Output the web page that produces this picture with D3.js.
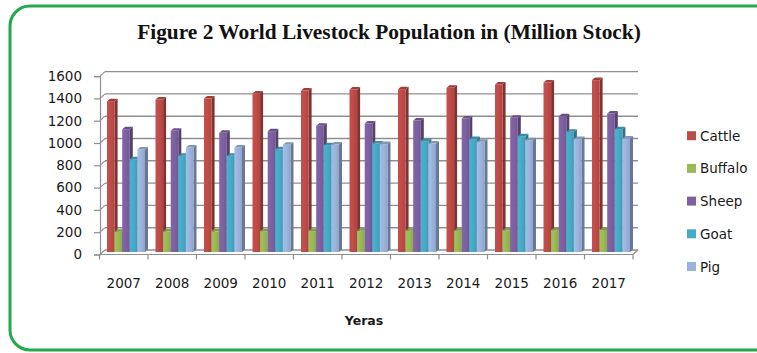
<!DOCTYPE html>
<html><head><meta charset="utf-8">
<script src="https://cdn.jsdelivr.net/npm/d3@7"></script>
<style>html,body{margin:0;padding:0;background:#fff;}svg{display:block;}</style>
</head><body>
<svg id="chart" width="757" height="353"></svg>
<script>
const years = ["2007","2008","2009","2010","2011","2012","2013","2014","2015","2016","2017"];
const seriesNames = ["Cattle","Buffalo","Sheep","Goat","Pig"];
const cattle  = [1357,1372,1381,1426,1453,1462,1465,1477,1507,1525,1546];
const buffalo = [186,188,190,191,192,194,195,196,198,200,202];
const sheep   = [1106,1091,1073,1088,1136,1157,1184,1202,1208,1223,1247];
const goat    = [837,867,867,926,963,978,999,1017,1043,1082,1106];
const pig     = [924,942,942,966,969,972,978,993,1007,1017,1022];
const yTicks  = [0,200,400,600,800,1000,1200,1400,1600];
const colors  = ["#BE4B48","#98B954","#7D60A0","#46AAC5","#9BB3DC"];
const titleText = "Figure 2 World Livestock Population in (Million Stock)";
const xTitle = "Yeras";

const seriesValues = [cattle, buffalo, sheep, goat, pig];
const svg = d3.select("#chart");
const defs = svg.append("defs");

// frame
svg.append("rect").attr("x",10).attr("y",6).attr("width",770).attr("height",344)
  .attr("rx",20).attr("ry",20).attr("fill","#fff").attr("stroke","#22a84d").attr("stroke-width",3);

svg.append("text").attr("x",389).attr("y",39).attr("text-anchor","middle")
  .attr("font-family","'Liberation Serif','Times New Roman',serif").attr("font-weight","bold")
  .attr("font-size",21.4).attr("fill","#111").text(titleText);

// geometry
const depth = {dx:5, dy:4.5};
const x = d3.scaleBand().domain(years).range([99.5, 633]);
const inner = d3.scaleBand().domain(seriesNames).range([7.5, 45.5]);
const yBack = d3.scaleLinear().domain([0,1600]).range([250, 71.6]);
const yFront = d3.scaleLinear().domain([0,1600]).range([250+depth.dy, 71.6+depth.dy]);
const x0 = 100, x1 = 633;
const gridColor = "#8f8f8f";

// back wall gridlines + side wall diagonals
const grid = svg.append("g");
yTicks.forEach(v => {
  grid.append("line").attr("x1",x0+depth.dx).attr("x2",x1+depth.dx)
    .attr("y1",yBack(v)).attr("y2",yBack(v)).attr("stroke",gridColor).attr("stroke-width",1.4);
  grid.append("line").attr("x1",x0).attr("x2",x0+depth.dx)
    .attr("y1",yFront(v)).attr("y2",yBack(v)).attr("stroke",gridColor).attr("stroke-width",1.1);
});
// floor front edge and right diagonal
grid.append("line").attr("x1",x0).attr("x2",x1).attr("y1",yFront(0)).attr("y2",yFront(0))
  .attr("stroke",gridColor).attr("stroke-width",1.2);
grid.append("line").attr("x1",x1).attr("x2",x1+depth.dx).attr("y1",yFront(0)).attr("y2",yBack(0))
  .attr("stroke",gridColor).attr("stroke-width",1.2);

// y axis
const yAxis = svg.append("g").attr("transform",`translate(${x0},0)`)
  .call(d3.axisLeft(yFront).tickValues(yTicks).tickSize(6).tickPadding(12).tickFormat(d3.format("d")));
yAxis.select(".domain").attr("stroke",gridColor).attr("stroke-width",1.2);
yAxis.selectAll(".tick line").attr("stroke",gridColor).attr("stroke-width",1.2);
yAxis.selectAll("text").attr("font-family","'DejaVu Sans',sans-serif").attr("font-size",13.5).attr("fill","#1a1a1a");

// x axis ticks at band boundaries
const xg = svg.append("g");
const boundaries = years.map(d => x(d)).concat([x.range()[1]]);
boundaries.forEach(b => {
  xg.append("line").attr("x1",b).attr("x2",b).attr("y1",yFront(0)).attr("y2",yFront(0)+5)
    .attr("stroke",gridColor).attr("stroke-width",1.2);
});
xg.selectAll("text.yl").data(years).enter().append("text").attr("class","yl")
  .attr("x",d => x(d)+x.bandwidth()/2).attr("y",288).attr("text-anchor","middle")
  .attr("font-family","'DejaVu Sans',sans-serif").attr("font-size",13.5).attr("fill","#1a1a1a").text(d=>d);

svg.append("text").attr("x",364).attr("y",325).attr("text-anchor","middle")
  .attr("font-family","'DejaVu Sans',sans-serif").attr("font-weight","bold").attr("font-size",12.5)
  .attr("fill","#1a1a1a").text(xTitle);

// gradients
colors.forEach((c,i) => {
  const g = defs.append("linearGradient").attr("id","g"+i).attr("x1",0).attr("x2",1).attr("y1",0).attr("y2",0);
  g.append("stop").attr("offset","0%").attr("stop-color",d3.color(c).brighter(0.15));
  g.append("stop").attr("offset","55%").attr("stop-color",c);
  g.append("stop").attr("offset","100%").attr("stop-color",d3.color(c).darker(0.25));
});

// bars
const bdx = 3, bdy = 2.5, floorY = 252;
const bars = svg.append("g");
years.forEach((yr, yi) => {
  seriesNames.forEach((s, si) => {
    const v = seriesValues[si][yi];
    const c = d3.color(colors[si]);
    const bx0 = x(yr) + inner(s), bx1 = bx0 + inner.bandwidth();
    const top = yFront(v) - 2;
    const g = bars.append("g");
    g.append("path").attr("d",`M${bx1},${top}L${bx1+bdx},${top-bdy}L${bx1+bdx},${floorY-bdy}L${bx1},${floorY}Z`)
      .attr("fill",c.darker(1.1));
    g.append("path").attr("d",`M${bx0},${top}L${bx1},${top}L${bx1+bdx},${top-bdy}L${bx0+bdx},${top-bdy}Z`)
      .attr("fill",c.darker(0.5));
    g.append("rect").attr("x",bx0).attr("y",top).attr("width",inner.bandwidth()).attr("height",floorY-top)
      .attr("fill",`url(#g${si})`);
  });
});

// legend
const lg = svg.append("g");
seriesNames.forEach((s,i) => {
  const cy = 135.7 + i*32.7;
  lg.append("rect").attr("x",687).attr("y",cy-4.5).attr("width",9).attr("height",9).attr("fill",colors[i]);
  lg.append("text").attr("x",700).attr("y",cy+5).attr("font-family","'DejaVu Sans',sans-serif")
    .attr("font-size",13.5).attr("fill","#1a1a1a").text(s);
});
</script>
</body></html>
